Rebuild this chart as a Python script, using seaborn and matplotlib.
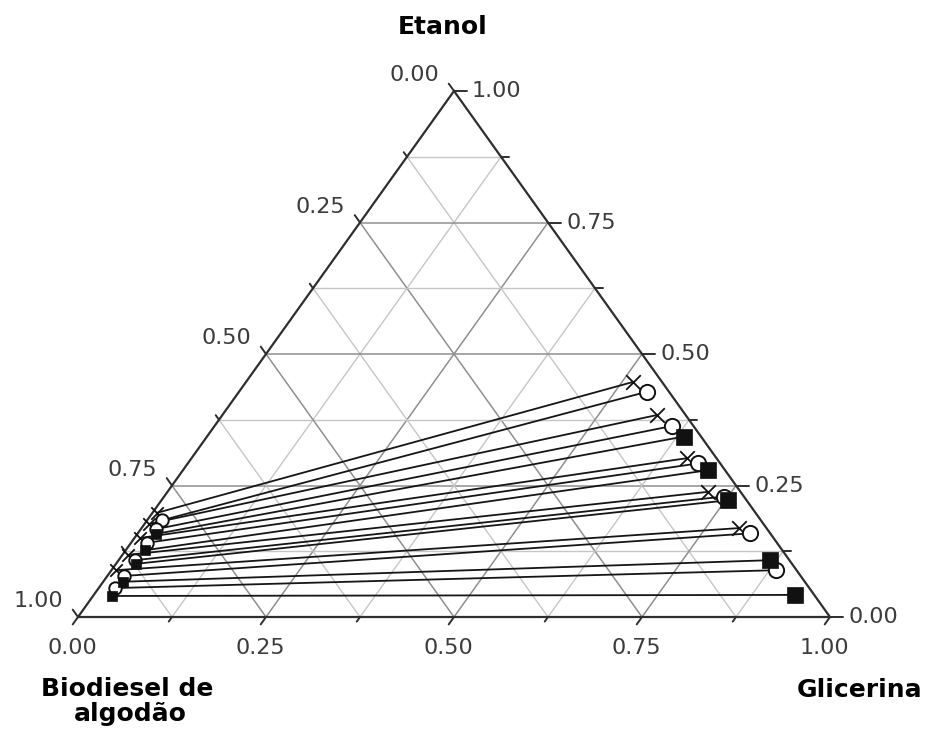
import numpy as np
import pandas as pd
import matplotlib
matplotlib.use("Agg")
import matplotlib.pyplot as plt
import seaborn as sns

# Liquid-liquid equilibrium tie lines, ethanol / glycerol / cottonseed biodiesel
# (mass fractions). Each tie line joins the biodiesel-rich phase to the
# glycerol-rich phase. Three data sets, drawn with x, open circle and filled square.
x_bio_etanol = [0.198, 0.177, 0.150, 0.118, 0.089]
x_bio_glicerina = [0.006, 0.006, 0.007, 0.007, 0.006]
x_gli_etanol = [0.447, 0.384, 0.302, 0.238, 0.169]
x_gli_glicerina = [0.515, 0.578, 0.659, 0.719, 0.794]

o_bio_etanol = [0.184, 0.167, 0.141, 0.108, 0.078, 0.055]
o_bio_glicerina = [0.020, 0.020, 0.021, 0.022, 0.022, 0.022]
o_gli_etanol = [0.428, 0.363, 0.292, 0.229, 0.159, 0.089]
o_gli_glicerina = [0.542, 0.608, 0.679, 0.744, 0.814, 0.884]

s_bio_etanol = [0.158, 0.127, 0.101, 0.067, 0.040]
s_bio_glicerina = [0.025, 0.026, 0.026, 0.026, 0.025]
s_gli_etanol = [0.343, 0.279, 0.222, 0.108, 0.042]
s_gli_glicerina = [0.634, 0.698, 0.754, 0.866, 0.933]

tick_values = [0.0, 0.25, 0.50, 0.75, 1.0]
tick_labels = ["0.00", "0.25", "0.50", "0.75", "1.00"]
minor_values = [0.125, 0.375, 0.625, 0.875]

sns.set_style("white")
plt.rcParams["font.family"] = ["DejaVu Sans"]


def to_xy(etanol, glicerina):
    """Ternary composition -> plane: glycerol along the base, ethanol up."""
    etanol = np.asarray(etanol, dtype=float)
    glicerina = np.asarray(glicerina, dtype=float)
    return glicerina + etanol / 2.0, etanol


# tidy table of tie-line end points
rows = []
sets = [
    ("x", x_bio_etanol, x_bio_glicerina, x_gli_etanol, x_gli_glicerina),
    ("o", o_bio_etanol, o_bio_glicerina, o_gli_etanol, o_gli_glicerina),
    ("s", s_bio_etanol, s_bio_glicerina, s_gli_etanol, s_gli_glicerina),
]
for name, be, bg, ge, gg in sets:
    for i in range(len(be)):
        for phase, e, g in (("bio", be[i], bg[i]), ("gli", ge[i], gg[i])):
            px, py = to_xy(e, g)
            rows.append({"serie": name, "linha": f"{name}{i}", "fase": phase,
                         "px": float(px), "py": float(py)})
df = pd.DataFrame(rows)

W, H, DPI = 930, 729, 100
fig = plt.figure(figsize=(W / DPI, H / DPI), dpi=DPI)
ax = fig.add_axes([0, 0, 1, 1])
# base spans pixels 78..830, height 526 px, base at 617 px from the top
ax.set_xlim(-78 / 752, (W - 78) / 752)
ax.set_ylim(-(H - 617) / 526, 617 / 526)
ax.set_axis_off()

grid_major = "#8f8f8f"
grid_minor = "#c6c6c6"
edge_col = "#2e2e2e"

# inner grid
for v in np.arange(0.125, 1.0, 0.125):
    major = abs((v / 0.25) - round(v / 0.25)) < 1e-9
    col = grid_major if major else grid_minor
    lw = 1.1 if major else 1.0
    # constant ethanol
    xs, ys = to_xy([v, v], [0.0, 1 - v])
    ax.plot(xs, ys, color=col, lw=lw, zorder=1)
    # constant glycerol
    xs, ys = to_xy([0.0, 1 - v], [v, v])
    ax.plot(xs, ys, color=col, lw=lw, zorder=1)
    # constant biodiesel
    xs, ys = to_xy([1 - v, 0.0], [0.0, 1 - v])
    ax.plot(xs, ys, color=col, lw=lw, zorder=1)

# triangle outline
xs, ys = to_xy([0, 1, 0, 0], [0, 0, 1, 0])
ax.plot(xs, ys, color=edge_col, lw=1.6, zorder=3, solid_joinstyle="miter")


def shift(x, y, dx, dy):
    p = ax.transData.transform((x, y))
    return ax.transData.inverted().transform(p + np.array([dx, dy]))


ul = np.array([-0.581, 0.813])   # up-left, parallel to the right edge
dl = np.array([-0.581, -0.813])  # down-left, parallel to the left edge
rt = np.array([1.0, 0.0])

tick_kw = dict(color=edge_col, lw=1.4, zorder=3)
for v in tick_values + minor_values:
    L = 13 if v in tick_values else 8
    # left edge: biodiesel fraction v
    x0, y0 = to_xy(1 - v, 0.0)
    x1, y1 = shift(x0, y0, *(ul * L * 0.7))
    ax.plot([x0, x1], [y0, y1], **tick_kw)
    # right edge: ethanol fraction v
    x0, y0 = to_xy(v, 1 - v)
    x1, y1 = shift(x0, y0, *(rt * L))
    ax.plot([x0, x1], [y0, y1], **tick_kw)
    # base: glycerol fraction v
    x0, y0 = to_xy(0.0, v)
    x1, y1 = shift(x0, y0, *(dl * L * 0.7))
    ax.plot([x0, x1], [y0, y1], **tick_kw)

lab_kw = dict(textcoords="offset pixels", fontsize=16, color="#3c3c3c")
for v, lab in zip(tick_values, tick_labels):
    ax.annotate(lab, to_xy(1 - v, 0.0), xytext=(-40, 16),
                ha="center", va="center", **lab_kw)
    ax.annotate(lab, to_xy(v, 1 - v), xytext=(18, 0),
                ha="left", va="center", **lab_kw)
    ax.annotate(lab, to_xy(0.0, v), xytext=(-6, -31),
                ha="center", va="center", **lab_kw)

# tie lines
sns.lineplot(data=df, x="px", y="py", units="linha", estimator=None,
             sort=False, color="#151515", lw=1.3, legend=False, ax=ax,
             zorder=4)

# end-point markers: smaller on the crowded biodiesel-rich side
marker_styles = {
    "x": dict(marker="x", color="#111111", linewidth=1.3),
    "o": dict(marker="o", facecolor="white", edgecolor="#111111",
              linewidth=1.4),
    "s": dict(marker="s", color="#111111", edgecolor="#111111",
              linewidth=0.5),
}
phase_sizes = {"gli": {"x": 110, "o": 120, "s": 120},
               "bio": {"x": 80, "o": 80, "s": 55}}
for phase in ("bio", "gli"):
    for name, kw in marker_styles.items():
        sub = df[(df.serie == name) & (df.fase == phase)]
        sns.scatterplot(data=sub, x="px", y="py", s=phase_sizes[phase][name],
                        legend=False, ax=ax,
                        zorder=6 if name == "s" else 5, **kw)
ax.set_xlabel("")
ax.set_ylabel("")

title_kw = dict(fontsize=18, fontweight="bold", color="black",
                ha="center", va="center")
fig.text(443 / W, 1 - 27 / H, "Etanol", **title_kw)
fig.text(860 / W, 1 - 690 / H, "Glicerina", **title_kw)
fig.text(127 / W, 1 - 689 / H, "Biodiesel de", **title_kw)
fig.text(130 / W, 1 - 714 / H, "algodão", **title_kw)

fig.savefig("out.png", dpi=DPI)
